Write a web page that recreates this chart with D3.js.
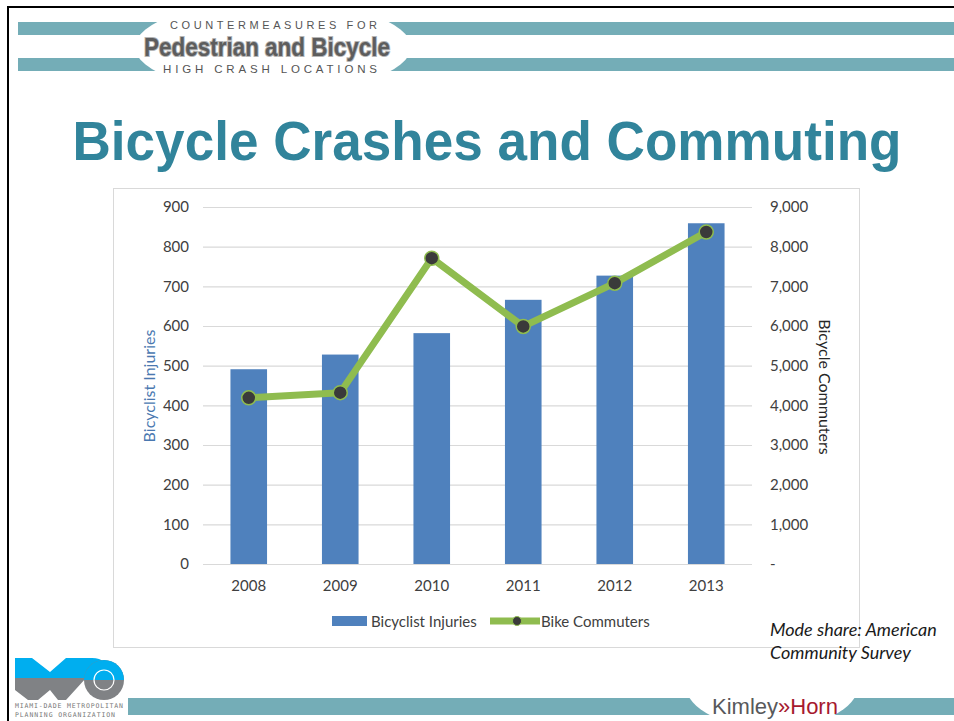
<!DOCTYPE html>
<html>
<head>
<meta charset="utf-8">
<script src="https://cdn.jsdelivr.net/npm/d3@7"></script>
<style>
  body{margin:0;background:#fff}
  svg{display:block}
</style>
</head>
<body>
<div id="slide"></div>
<script>
      // Data
      const years = ["2008","2009","2010","2011","2012","2013"]
      const injuries = [491, 528, 582, 666, 727, 859]
      const commuters = [4190, 4320, 7710, 5990, 7080, 8370]
      const leftTicks = [0,100,200,300,400,500,600,700,800,900]
      const rightTicks = [0,1000,2000,3000,4000,5000,6000,7000,8000,9000]

      //Initialize
      var slideWidth = 954
      var slideHeight = 721
      const plot = {left:203, right:752, top:207, bottom:564}

      const barColor = "#4f81bd"
      const lineColor = "#8fbc4f"
      const bandColor = "#74adb7"
      const chartFont = "Lato, 'Open Sans', sans-serif"

      const svg = d3.select('#slide').append('svg')
      .attr("width",slideWidth)
      .attr("height",slideHeight)
      .style("background","#ffffff")

      // Header bands
      svg.append("rect").attr("x",18).attr("y",22).attr("width",936).attr("height",13).attr("fill",bandColor)
      svg.append("rect").attr("x",18).attr("y",58).attr("width",936).attr("height",13).attr("fill",bandColor)
      svg.append("ellipse").attr("cx",273).attr("cy",47).attr("rx",138).attr("ry",46).attr("fill","#fff")

      // Footer band
      svg.append("rect").attr("x",128).attr("y",698).attr("width",826).attr("height",17).attr("fill",bandColor)
      svg.append("ellipse").attr("cx",772).attr("cy",686).attr("rx",86).attr("ry",42).attr("fill","#fff")

      // Frame
      svg.append("path")
      .attr("d","M8,721 V7 H954")
      .attr("fill","none")
      .attr("stroke","#000")
      .attr("stroke-width",2)

      // Header text
      svg.append("text")
      .attr("x",170).attr("y",29)
      .attr("textLength",207).attr("lengthAdjust","spacing")
      .attr("font-family","'Liberation Sans', Arial, sans-serif")
      .attr("font-size",11)
      .attr("fill","#555")
      .text("COUNTERMEASURES FOR")

      svg.append("text")
      .attr("x",144).attr("y",56)
      .attr("textLength",246).attr("lengthAdjust","spacingAndGlyphs")
      .attr("font-family","'Liberation Sans Narrow', 'Liberation Sans', sans-serif")
      .attr("font-weight","bold")
      .attr("font-size",25)
      .attr("fill","#5d5d5d")
      .attr("stroke","#b5b5b5")
      .attr("stroke-width",2)
      .attr("paint-order","stroke")
      .text("Pedestrian and Bicycle")

      svg.append("text")
      .attr("x",163).attr("y",73)
      .attr("textLength",214).attr("lengthAdjust","spacing")
      .attr("font-family","'Liberation Sans', Arial, sans-serif")
      .attr("font-size",11.5)
      .attr("fill","#555")
      .text("HIGH CRASH LOCATIONS")

      // Title
      svg.append("text")
      .attr("x",487).attr("y",160)
      .attr("text-anchor","middle")
      .attr("textLength",829).attr("lengthAdjust","spacingAndGlyphs")
      .attr("font-family","'Liberation Sans', Arial, sans-serif")
      .attr("font-weight","bold")
      .attr("font-size",55)
      .attr("fill","#31849b")
      .text("Bicycle Crashes and Commuting")

      // Chart box
      svg.append("rect")
      .attr("x",113.5).attr("y",188.5)
      .attr("width",746).attr("height",459)
      .attr("fill","#fff")
      .attr("stroke","#d9d9d9")

      // Scales
      const x = d3.scaleBand()
      .domain(years)
      .range([plot.left,plot.right])
      .paddingInner(0.6)
      .paddingOuter(0.3)

      const yLeft = d3.scaleLinear()
      .domain([0,900])
      .range([plot.bottom,plot.top])

      const yRight = d3.scaleLinear()
      .domain([0,9000])
      .range([plot.bottom,plot.top])

      // Gridlines
      const grid = svg.append("g")
      .attr("transform","translate("+plot.left+",0)")
      .call(d3.axisLeft(yLeft).tickValues(leftTicks).tickSize(-(plot.right-plot.left)).tickFormat(""))
      grid.select(".domain").remove()
      grid.selectAll("line").attr("stroke","#d9d9d9").attr("stroke-width",1.2)

      // Left axis
      const leftAxis = svg.append("g")
      .attr("transform","translate("+plot.left+",0)")
      .call(d3.axisLeft(yLeft).tickValues(leftTicks).tickSize(0).tickPadding(14))
      leftAxis.select(".domain").remove()
      leftAxis.selectAll("text")
      .attr("font-family",chartFont)
      .attr("font-size",15)
      .attr("fill","#404040")

      // Right axis
      const rightAxis = svg.append("g")
      .attr("transform","translate("+plot.right+",0)")
      .call(d3.axisRight(yRight).tickValues(rightTicks).tickSize(0).tickPadding(18)
        .tickFormat(d=>d==0 ? "-" : d3.format(",")(d)))
      rightAxis.select(".domain").remove()
      rightAxis.selectAll("text")
      .attr("font-family",chartFont)
      .attr("font-size",15)
      .attr("fill","#404040")

      // Bottom axis
      const bottomAxis = svg.append("g")
      .attr("transform","translate(0,"+plot.bottom+")")
      .call(d3.axisBottom(x).tickSize(0).tickPadding(16))
      bottomAxis.select(".domain").remove()
      bottomAxis.selectAll("text")
      .attr("font-family",chartFont)
      .attr("font-size",15)
      .attr("fill","#404040")

      // Axis titles
      svg.append("text")
      .attr("transform","translate(148,386) rotate(-90)")
      .attr("text-anchor","middle")
      .attr("dominant-baseline","central")
      .attr("font-family",chartFont)
      .attr("font-size",16)
      .attr("fill","#4a78b0")
      .text("Bicyclist Injuries")

      svg.append("text")
      .attr("transform","translate(825,387) rotate(90)")
      .attr("text-anchor","middle")
      .attr("dominant-baseline","central")
      .attr("font-family",chartFont)
      .attr("font-size",16)
      .attr("fill","#262626")
      .text("Bicycle Commuters")

      // Bars
      svg.append("g")
      .selectAll("rect")
      .data(years)
      .enter()
      .append("rect")
      .attr("x",d=>x(d))
      .attr("y",(d,i)=>yLeft(injuries[i]))
      .attr("width",x.bandwidth())
      .attr("height",(d,i)=>plot.bottom-yLeft(injuries[i]))
      .attr("fill",barColor)

      // Commuters line
      const line = d3.line()
      .x((d,i)=>x(years[i])+x.bandwidth()/2)
      .y(d=>yRight(d))

      svg.append("path")
      .datum(commuters)
      .attr("d",line)
      .attr("fill","none")
      .attr("stroke",lineColor)
      .attr("stroke-width",7)
      .attr("stroke-linejoin","round")

      svg.append("g")
      .selectAll("circle")
      .data(commuters)
      .enter()
      .append("circle")
      .attr("cx",(d,i)=>x(years[i])+x.bandwidth()/2)
      .attr("cy",d=>yRight(d))
      .attr("r",7)
      .attr("fill","#3a3a3a")
      .attr("stroke",lineColor)
      .attr("stroke-width",1.5)

      // Legend
      const legend = svg.append("g").attr("transform","translate(0,621)")

      legend.append("rect")
      .attr("x",332).attr("y",-5)
      .attr("width",35).attr("height",10)
      .attr("fill",barColor)

      legend.append("text")
      .attr("x",371).attr("y",0)
      .attr("dominant-baseline","central")
      .attr("font-family",chartFont)
      .attr("font-size",15)
      .attr("fill","#404040")
      .text("Bicyclist Injuries")

      legend.append("line")
      .attr("x1",490).attr("x2",540)
      .attr("stroke",lineColor)
      .attr("stroke-width",7)

      legend.append("circle")
      .attr("cx",517).attr("cy",0).attr("r",4.5)
      .attr("fill","#3a3a3a")
      .attr("stroke",lineColor)

      legend.append("text")
      .attr("x",541).attr("y",0)
      .attr("dominant-baseline","central")
      .attr("font-family",chartFont)
      .attr("font-size",15)
      .attr("fill","#404040")
      .text("Bike Commuters")

      // Source note
      const note = svg.append("text")
      .attr("font-family",chartFont)
      .attr("font-style","italic")
      .attr("font-size",18)
      .attr("fill","#1a1a1a")
      note.append("tspan").attr("x",770).attr("y",636).text("Mode share: American")
      note.append("tspan").attr("x",770).attr("y",659).text("Community Survey")

      // MPO logo
      const mpo = svg.append("g")
      mpo.append("path")
      .attr("d","M15,658 H32 L50,672 L66,658 H92 Q100,658 104,662 L86,678 H15 Z")
      .attr("fill","#00aeef")
      mpo.append("path")
      .attr("d","M15,678 H86 L66,700 H58 L50,690 L38,700 H28 L15,690 Z")
      .attr("fill","#808285")
      mpo.append("circle")
      .attr("cx",104).attr("cy",680).attr("r",20)
      .attr("fill","#808285")
      mpo.append("path")
      .attr("d","M84,680 A20,20 0 0 1 124,680 Z")
      .attr("fill","#00aeef")
      mpo.append("circle")
      .attr("cx",104).attr("cy",680).attr("r",10)
      .attr("fill","none")
      .attr("stroke","#fff")
      .attr("stroke-width",1.2)

      mpo.append("text")
      .attr("x",15).attr("y",708)
      .attr("textLength",108).attr("lengthAdjust","spacing")
      .attr("font-family","'DejaVu Sans Mono', monospace")
      .attr("font-size",6.5)
      .attr("fill","#777")
      .text("MIAMI-DADE METROPOLITAN")
      mpo.append("text")
      .attr("x",15).attr("y",717)
      .attr("textLength",100).attr("lengthAdjust","spacing")
      .attr("font-family","'DejaVu Sans Mono', monospace")
      .attr("font-size",6.5)
      .attr("fill","#777")
      .text("PLANNING ORGANIZATION")

      // Kimley-Horn
      const kh = svg.append("text")
      .attr("x",712).attr("y",714)
      .attr("font-family","'Liberation Sans Narrow', 'Liberation Sans', sans-serif")
      .attr("font-size",22)
      kh.append("tspan").attr("fill","#58595b").text("Kimley")
      kh.append("tspan").attr("fill","#a6192e").text("»Horn")
</script>
</body>
</html>
